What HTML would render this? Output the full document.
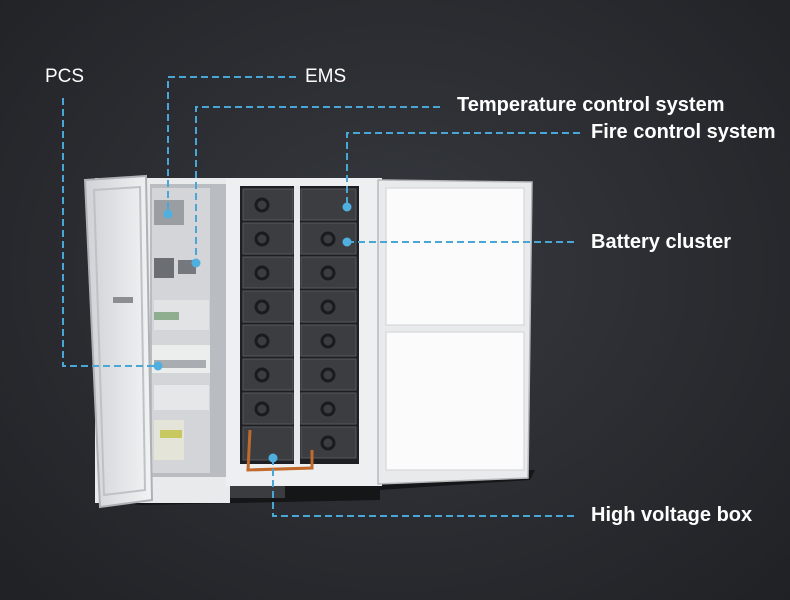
<!DOCTYPE html>
<html><head><meta charset="utf-8"><style>
html,body{margin:0;padding:0}
body{width:790px;height:600px;overflow:hidden;position:relative;
background:radial-gradient(ellipse at 50% 45%,#36393f 0%,#2a2c31 55%,#1f2125 100%);
font-family:"Liberation Sans",sans-serif}
.a{position:absolute}
.t{position:absolute;color:#fff;font-size:19px;white-space:nowrap}
.b{font-weight:bold;font-size:20px}
</style></head><body>
<svg class="a" style="left:0;top:0" width="790" height="600" viewBox="0 0 790 600">
<defs>
<linearGradient id="door" x1="0" x2="1"><stop offset="0" stop-color="#cfd2d6"/><stop offset="1" stop-color="#f2f3f4"/></linearGradient>
</defs>
<polygon points="100,470 535,470 530,480 380,490 380,500 140,505 100,500" fill="#151618"/>
<rect x="195" y="486" width="90" height="12" fill="#3a3c40"/>
<rect x="95" y="178" width="135" height="325" fill="#e9eaec"/>
<rect x="150" y="184" width="76" height="293" fill="#b9bcc0"/>
<rect x="152" y="188" width="58" height="285" fill="#d3d5d8"/>
<rect x="154" y="200" width="30" height="25" fill="#9a9da2"/>
<rect x="154" y="258" width="20" height="20" fill="#6b6e73"/>
<rect x="178" y="260" width="18" height="14" fill="#75787d"/>
<rect x="154" y="300" width="55" height="30" fill="#e2e3e5"/>
<rect x="154" y="312" width="25" height="8" fill="#8fae90"/>
<rect x="152" y="345" width="58" height="28" fill="#eceded"/>
<rect x="154" y="360" width="52" height="8" fill="#a9acb0"/>
<rect x="154" y="385" width="55" height="25" fill="#e6e7e8"/>
<rect x="154" y="420" width="30" height="40" fill="#e4e5d8"/>
<rect x="160" y="430" width="22" height="8" fill="#c7c860"/>
<polygon points="85,180 146,176 152,500 100,507" fill="url(#door)" stroke="#aeb1b5" stroke-width="2"/>
<polygon points="94,190 140,187 145,490 104,495" fill="none" stroke="#bfc2c5" stroke-width="2"/>
<rect x="113" y="297" width="20" height="6" fill="#8a8d91"/>
<rect x="226" y="178" width="156" height="308" fill="#eeeff0"/>
<rect x="240" y="186" width="119" height="278" fill="#1e1f22"/>
<rect x="294" y="186" width="6" height="278" fill="#e8e9ea"/>
<g fill="#3b3d41" stroke="#55585c" stroke-width="1">
<rect x="243" y="189" width="50" height="31"/><rect x="243" y="223" width="50" height="31"/><rect x="243" y="257" width="50" height="31"/><rect x="243" y="291" width="50" height="31"/><rect x="243" y="325" width="50" height="31"/><rect x="243" y="359" width="50" height="31"/><rect x="243" y="393" width="50" height="31"/><rect x="243" y="427" width="50" height="33"/>
<rect x="301" y="189" width="55" height="31"/><rect x="301" y="223" width="55" height="31"/><rect x="301" y="257" width="55" height="31"/><rect x="301" y="291" width="55" height="31"/><rect x="301" y="325" width="55" height="31"/><rect x="301" y="359" width="55" height="31"/><rect x="301" y="393" width="55" height="31"/><rect x="301" y="427" width="55" height="31"/>
</g>
<g fill="none" stroke="#1a1b1d" stroke-width="3">
<circle cx="262" cy="205" r="6"/><circle cx="262" cy="239" r="6"/><circle cx="262" cy="273" r="6"/><circle cx="262" cy="307" r="6"/><circle cx="262" cy="341" r="6"/><circle cx="262" cy="375" r="6"/><circle cx="262" cy="409" r="6"/>
<circle cx="328" cy="239" r="6"/><circle cx="328" cy="273" r="6"/><circle cx="328" cy="307" r="6"/><circle cx="328" cy="341" r="6"/><circle cx="328" cy="375" r="6"/><circle cx="328" cy="409" r="6"/><circle cx="328" cy="443" r="6"/>
</g>
<polyline points="250,430 248,470 312,468 312,450" fill="none" stroke="#c06a2c" stroke-width="3"/>
<polygon points="378,180 532,182 528,478 378,484" fill="#e9eaeb" stroke="#b5b8bb" stroke-width="1.5"/>
<rect x="386" y="188" width="138" height="137" fill="#fbfbfb" stroke="#d0d2d4"/>
<rect x="386" y="332" width="138" height="138" fill="#fbfbfb" stroke="#d0d2d4"/>
<g fill="none" stroke="#4aa6d4" stroke-width="2" stroke-dasharray="7,4">
<polyline points="63,98 63,366 158,366"/>
<polyline points="296,77 168,77 168,213"/>
<polyline points="440,107 196,107 196,262"/>
<polyline points="580,133 347,133 347,207"/>
<polyline points="347,242 578,242"/>
<polyline points="273,458 273,516 578,516"/>
</g>
<g fill="#4fb0e0">
<circle cx="158" cy="366" r="4.5"/><circle cx="168" cy="214" r="4.5"/><circle cx="196" cy="263" r="4.5"/>
<circle cx="347" cy="207" r="4.5"/><circle cx="347" cy="242" r="4.5"/><circle cx="273" cy="458" r="4.5"/>
</g>
</svg>
<div class="t" style="left:45px;top:66px">PCS</div>
<div class="t" style="left:305px;top:66px">EMS</div>
<div class="t b" style="left:457px;top:94px">Temperature control system</div>
<div class="t b" style="left:591px;top:121px">Fire control system</div>
<div class="t b" style="left:591px;top:231px">Battery cluster</div>
<div class="t b" style="left:591px;top:504px">High voltage box</div>
</body></html>
